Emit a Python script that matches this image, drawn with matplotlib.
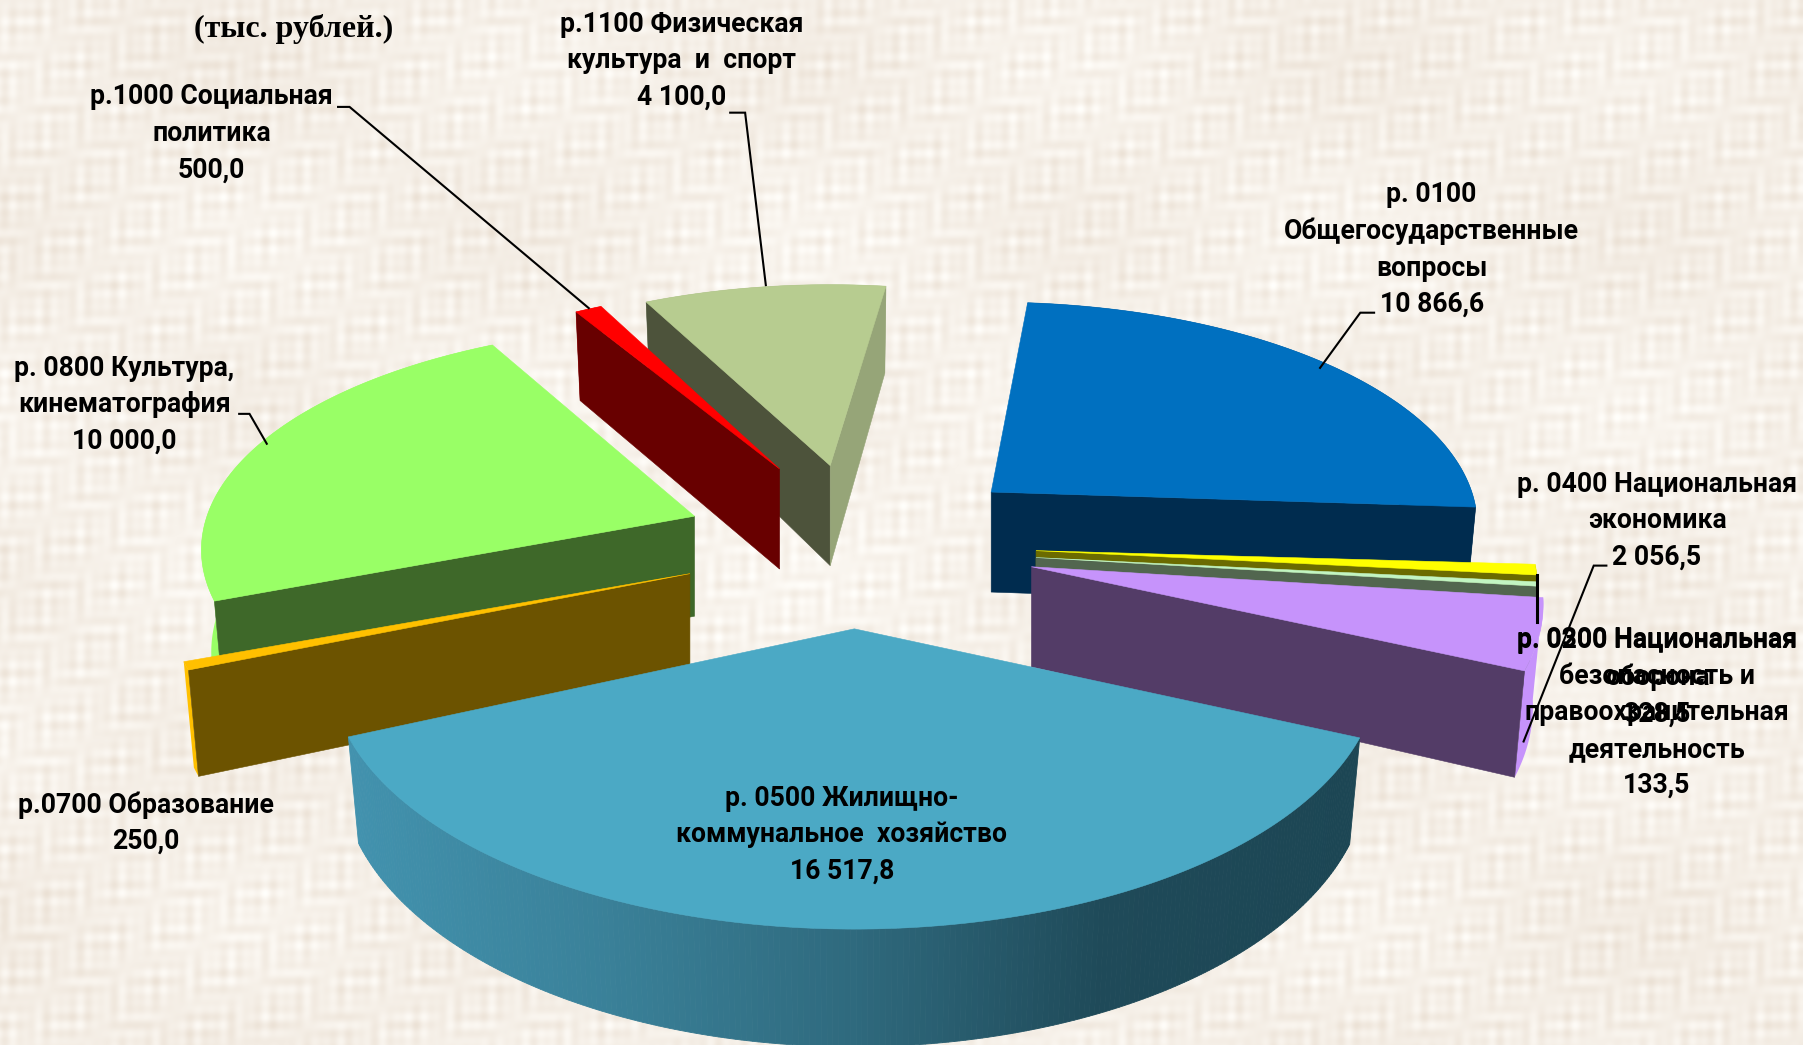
import numpy as np
import matplotlib
matplotlib.use("Agg")
import matplotlib.pyplot as plt
from matplotlib.colors import LinearSegmentedColormap
from matplotlib.patches import Polygon

# budget by section, thousand rubles (pie order, clockwise)
sections = ['0100', '0200', '0300', '0400', '0500', '0700', '0800', '1000', '1100']
values = [10866.6, 328.5, 133.5, 2056.5, 16517.8, 250.0, 10000.0, 500.0, 4100.0]

top_colors = ['#0070C0', '#FFFF00', '#C2F5C2', '#C693FB', '#4BA9C5', '#FFC000', '#99FF66', '#FF0000', '#B7CC90']
cut_colors = ['#002C4F', '#6B6B00', '#52664F', '#533C67', '#4BA9C5', '#6C5300', '#3E6829', '#680000', '#4D533B']
side_colors = ['#002C4F', '#6B6B00', '#C2F5C2', '#C693FB', '#33758C', '#FFC000', '#99FF66', '#FF0000', '#96A578']

# where every exploded slice sits: apex x, apex y, radius x, radius y
apex_x = [862, 901, 901, 897, 743, 600, 604, 678, 722]
apex_y = [428, 479, 485, 493, 547, 499, 449, 408, 405]
rad_x = [418, 431, 431, 440, 451, 447, 424, 388, 400]
rad_y = [190, 197, 197, 212, 222, 198, 191, 180, 181]
# the picture's perspective bends the angles a little, degrees
nudge_a = [-1.0, 0, 0, 0, 0, 0, 0, 0, 0]
nudge_b = [0.5, 0, 0, 0, 0, 0, 3.0, 0, 2.0]
# which cut wall faces the viewer: 's' start, 'e' end
cuts = ['e', 'e', 'e', 'e', '', 's', 's', 's', 'se']
draw_order = [8, 7, 0, 1, 2, 3, 6, 5, 4]

START = 6.0       # degrees, clockwise from the top
PERSP = 0.15      # the near side looks bigger
DEPTH = 87.0
SHRINK = 0.98

label_texts = [
    ('(тыс. рублей.)', 255, 25),
    ('р.1100 Физическая\nкультура  и  спорт\n4 100,0', 593, 53),
    ('р.1000 Социальная\nполитика\n500,0', 184, 116),
    ('р. 0100\nОбщегосударственные\nвопросы\n10 866,6', 1245, 217),
    ('р. 0800 Культура,\nкинематография\n10 000,0', 108, 352),
    ('р. 0400 Национальная\nэкономика\n2 056,5', 1441, 453),
    ('р. 0200 Национальная\nоборона\n328,5', 1441, 589),
    ('р. 0300 Национальная\nбезопасность и\nправоохранительная\nдеятельность\n133,5', 1441, 620),
    ('р.0700 Образование\n250,0', 127, 716),
    ('р. 0500 Жилищно-\nкоммунальное  хозяйство\n16 517,8', 732, 726),
]

leaders = [
    ([294, 304, 512], [93, 93, 268]),
    ([635, 648, 666], [98, 98, 248]),
    ([1195, 1183, 1148], [272, 272, 320]),
    ([208, 217, 232], [360, 360, 386]),
    ([1397, 1386, 1325], [492, 492, 645]),
]


def project(i, theta, r=1.0, low=False):
    # theta in degrees, r from 0 (apex) to 1 (rim), low=True for the bottom face
    t = np.radians(theta)
    w = 1.0 / (1.0 + PERSP * r * np.cos(t))
    x = rad_x[i] * r * np.sin(t) * w
    y = -rad_y[i] * r * np.cos(t) * w
    if low:
        x = x * SHRINK
        y = y + DEPTH * w
    return apex_x[i] + x, apex_y[i] + y


def linen(ax):
    # woven looking background, only sines
    xx, yy = np.meshgrid(np.arange(0, 1568, 1.0), np.arange(0, 909, 1.0))
    warp = np.sin(xx * 0.43) * np.sin(xx * 0.097 + 1.0) * np.sin(yy * 0.061 + xx * 0.019)
    weft = np.sin(yy * 0.41 + 0.5) * np.sin(yy * 0.083) * np.sin(xx * 0.053 + yy * 0.023)
    tex = warp + weft
    patch = np.sin(xx * 0.013 + 2.0) * np.sin(yy * 0.021 + 0.4)
    edge = np.abs(yy / 909.0 - 0.5) * 0.6 + np.abs(xx / 1568.0 - 0.5) * 0.4
    img = np.zeros(xx.shape + (3,))
    for c, (base, amp) in enumerate([(248, 5), (243, 7), (236, 9)]):
        img[:, :, c] = base + amp * tex + 0.5 * amp * patch - 1.5 * amp * edge
    ax.imshow(np.clip(img, 0, 255) / 255.0, extent=(0, 1568, 909, 0), interpolation='bilinear', zorder=0, aspect='auto')


def draw_slice(ax, i, a0, a1, z):
    angles = np.linspace(a0, a1, max(int(a1 - a0) * 2, 3))
    tx, ty = project(i, angles)
    bx, by = project(i, angles, low=True)
    ax0, ay0 = project(i, 0, 0)
    lx0, ly0 = project(i, 0, 0, low=True)

    # outer wall
    if sections[i] == '0500':
        shade = LinearSegmentedColormap.from_list('side', ['#4292AE', '#3A8199', '#2F6A7E', '#1F4A59', '#1C4654'])
        rim = np.linspace(a0, a1, 240)
        rx, ry = project(i, rim)
        qx, qy = project(i, rim, low=True)
        for k in range(len(rim) - 1):
            # dark on the right, light on the left
            col = shade((rx[k] - rx.min()) / (rx.max() - rx.min()))
            pts = [(rx[k], ry[k]), (rx[k + 1], ry[k + 1]), (qx[k + 1], qy[k + 1]), (qx[k], qy[k])]
            ax.add_patch(Polygon(pts, closed=True, fc=col, ec=col, lw=0.6, zorder=z))
    else:
        pts = list(zip(tx, ty)) + list(zip(bx[::-1], by[::-1]))
        ax.add_patch(Polygon(pts, closed=True, fc=side_colors[i], ec='none', zorder=z))

    # cut walls, end wall of 1100 is the lighter one
    for which, ang in (('s', a0), ('e', a1)):
        if which not in cuts[i]:
            continue
        rx0, ry0 = project(i, ang)
        rx1, ry1 = project(i, ang, low=True)
        col = cut_colors[i]
        if sections[i] == '1100' and which == 'e':
            col = side_colors[i]
        pts = [(ax0, ay0), (rx0, ry0), (rx1, ry1), (lx0, ly0)]
        ax.add_patch(Polygon(pts, closed=True, fc=col, ec=col, lw=0.4, zorder=z + 0.1))

    # top
    pts = [(ax0, ay0)] + list(zip(tx, ty))
    ax.add_patch(Polygon(pts, closed=True, fc=top_colors[i], ec=top_colors[i], lw=0.4, zorder=z + 0.2))


def main():
    fig = plt.figure(figsize=(18.03, 10.45), dpi=100)
    ax = fig.add_axes([0, 0, 1, 1])
    linen(ax)

    shares = np.array(values) / np.sum(values) * 360.0
    ends = START + np.cumsum(shares)
    starts = ends - shares

    for n, i in enumerate(draw_order):
        draw_slice(ax, i, starts[i] + nudge_a[i], ends[i] + nudge_b[i], 2 + n)

    for xs, ys in leaders:
        ax.plot(xs, ys, color='black', lw=1.5, zorder=20, solid_joinstyle='miter')
    ax.plot([1337, 1337], [500, 541], color='black', lw=2.2, zorder=20)

    for n, (txt, x, y) in enumerate(label_texts):
        if n == 0:
            ax.text(x, y, txt, ha='center', va='center', fontsize=23, fontweight='bold',
                    family='Liberation Serif', zorder=30)
        else:
            ax.text(x, y, txt, ha='center', va='center', fontsize=19.2, fontweight='bold',
                    family='Roboto', linespacing=1.45, zorder=30)

    ax.set_xlim(0, 1568)
    ax.set_ylim(909, 0)
    ax.axis('off')
    fig.savefig('out.png', dpi=100)


if __name__ == "__main__":
    main()
